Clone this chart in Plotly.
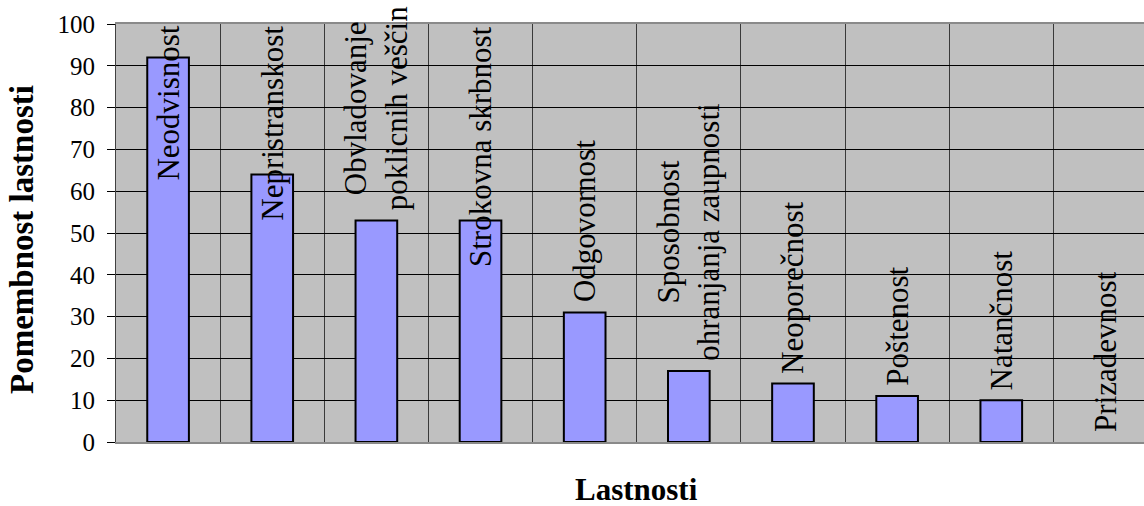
import plotly.graph_objects as go

# Qualities and how important each one was rated
categories = [
    "Neodvisnost",
    "Nepristranskost",
    "Obvladovanje<br>poklicnih veščin",
    "Strokovna skrbnost",
    "Odgovornost",
    "Sposobnost<br>ohranjanja zaupnosti",
    "Neoporečnost",
    "Poštenost",
    "Natančnost",
    "Prizadevnost",
]
values = [92, 64, 53, 53, 31, 17, 14, 11, 10, 0]
y_ticks = [0, 10, 20, 30, 40, 50, 60, 70, 80, 90, 100]

x_title = "Lastnosti"
y_title = "Pomembnost lastnosti"

SERIF = "Liberation Serif"
LABEL_SIZE = 31
Y_MAX = 100
PLOT_H = 506 - 24 - 64  # pixel height of the plotting area

xs = list(range(len(categories)))

fig = go.Figure(
    go.Bar(
        x=xs,
        y=values,
        width=0.4,
        marker=dict(
            color="#9999FF",
            line=dict(color="#000000", width=[2 if v > 0 else 0 for v in values]),
        ),
        hoverinfo="skip",
    )
)

# Category names written vertically above each bar; names that would run
# past the top of the plot are pinned to its top edge instead.
px_per_unit = PLOT_H / Y_MAX
for x, name, v in zip(xs, categories, values):
    longest = max(len(part) for part in name.split("<br>"))
    est_len = longest * LABEL_SIZE * 0.42 / px_per_unit
    if v + est_len > Y_MAX + 5:
        pos = dict(y=Y_MAX, yanchor="top", yshift=0)
    else:
        pos = dict(y=v, yanchor="bottom", yshift=8)
    fig.add_annotation(
        x=x, xref="x", yref="y", text=name, textangle=-90,
        showarrow=False, xanchor="center", align="center",
        font=dict(family=SERIF, size=LABEL_SIZE, color="black"),
        **pos,
    )

# Axis titles
fig.add_annotation(
    x=(len(categories) - 1) / 2, xref="x", y=0, yref="paper",
    yanchor="top", yshift=-28, text=f"<b>{x_title}</b>", showarrow=False,
    font=dict(family=SERIF, size=31, color="black"),
)
fig.add_annotation(
    x=0, xref="paper", xshift=-94, xanchor="center",
    y=0.5, yref="paper", yshift=-7, yanchor="middle",
    text=f"<b>{y_title}</b>", textangle=-90, showarrow=False,
    font=dict(family=SERIF, size=33, color="black"),
)

n = len(categories)
fig.update_layout(
    width=1144,
    height=506,
    margin=dict(l=116, r=0, t=24, b=64),
    paper_bgcolor="white",
    plot_bgcolor="#C0C0C0",
    showlegend=False,
    font=dict(family=SERIF, color="black"),
    xaxis=dict(
        range=[-0.5, -0.5 + 1028 / 104.15],
        tickvals=[i - 0.5 for i in range(n + 1)],
        showticklabels=False,
        ticks="",
        showgrid=True,
        gridcolor="#3A3A3A",
        gridwidth=1,
        zeroline=False,
        showline=True,
        linecolor="#8A8A8A",
        linewidth=2,
        mirror=True,
        fixedrange=True,
    ),
    yaxis=dict(
        range=[0, Y_MAX],
        tickvals=y_ticks,
        ticks="outside",
        ticklen=8,
        tickcolor="black",
        tickwidth=1,
        ticklabelstandoff=7,
        tickfont=dict(family=SERIF, size=25, color="black"),
        showgrid=True,
        gridcolor="black",
        gridwidth=1,
        zeroline=False,
        showline=True,
        linecolor="#404040",
        linewidth=1,
        fixedrange=True,
    ),
)

fig.write_html("out.html")
